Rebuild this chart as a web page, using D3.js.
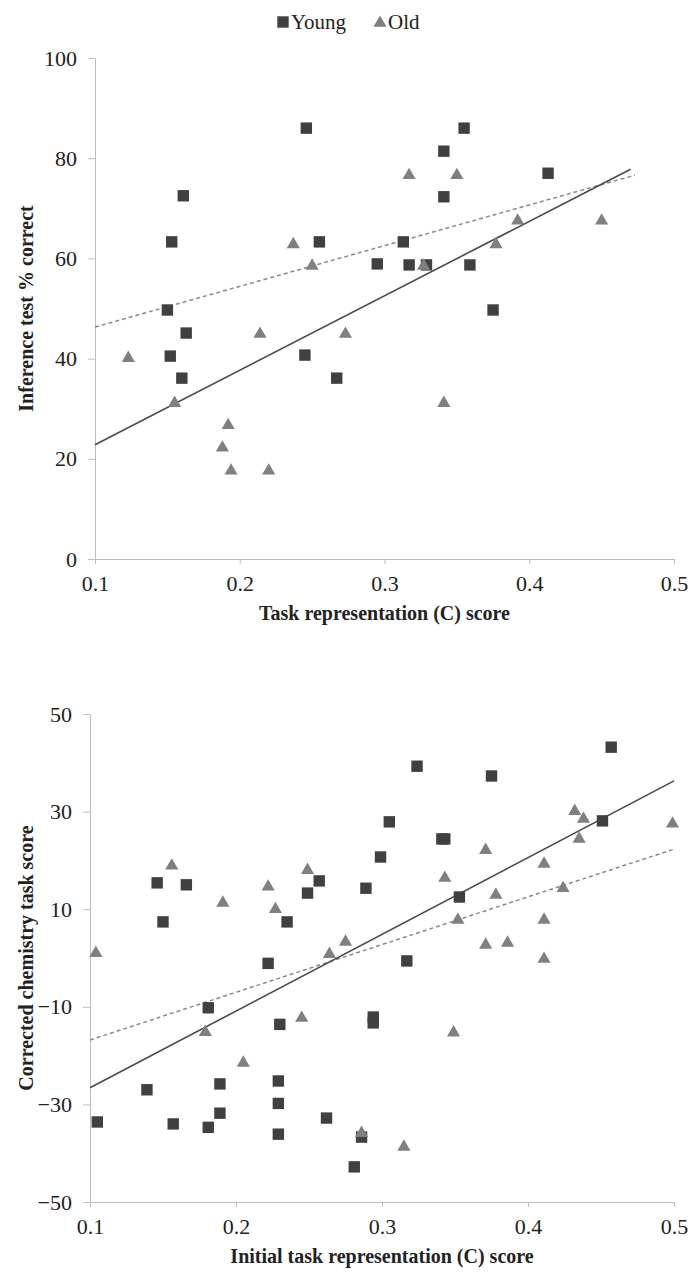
<!DOCTYPE html>
<html>
<head>
<meta charset="utf-8">
<script src="https://cdn.jsdelivr.net/npm/d3@7"></script>
<style>
  body { margin: 0; background: #fff; }
  svg text { font-family: "Liberation Serif", "Times New Roman", "DejaVu Serif", serif !important; fill: #222; }
</style>
</head>
<body>
<script>
// ---- data ----
var seriesNames = ["Young", "Old"];
var xTicks = [0.1, 0.2, 0.3, 0.4, 0.5];

// top panel: inference test % correct
var topYoung = [
  [0.246, 86], [0.355, 86], [0.341, 81.4], [0.413, 77], [0.161, 72.5], [0.341, 72.3],
  [0.153, 63.3], [0.255, 63.3], [0.313, 63.3], [0.295, 58.9], [0.317, 58.7], [0.329, 58.7],
  [0.359, 58.7], [0.150, 49.7], [0.375, 49.7], [0.163, 45.1], [0.152, 40.5], [0.245, 40.7],
  [0.160, 36.1], [0.267, 36.1]
];
var topOld = [
  [0.123, 40.3], [0.155, 31.3], [0.188, 22.4], [0.192, 26.9], [0.194, 17.8], [0.214, 45.1],
  [0.220, 17.8], [0.237, 63], [0.250, 58.7], [0.273, 45.1], [0.317, 76.8], [0.327, 58.7],
  [0.341, 31.3], [0.350, 76.8], [0.377, 63], [0.392, 67.7], [0.450, 67.7]
];
var topTrendSolid = [[0.1, 22.8], [0.47, 77.8]];
var topTrendDashed = [[0.1, 46.3], [0.473, 76.6]];
var topYTicks = [0, 20, 40, 60, 80, 100];

// bottom panel: corrected chemistry task score
var bottomYoung = [
  [0.105, -33.6], [0.139, -27], [0.146, 15.4], [0.150, 7.4], [0.157, -34], [0.166, 15],
  [0.181, -10.2], [0.181, -34.7], [0.189, -25.8], [0.189, -31.8], [0.222, -1.1], [0.229, -25.2],
  [0.229, -29.8], [0.229, -36.1], [0.230, -13.6], [0.235, 7.4], [0.249, 13.3], [0.257, 15.8],
  [0.262, -32.8], [0.281, -42.8], [0.286, -36.7], [0.289, 14.3], [0.294, -12.1], [0.294, -13.3],
  [0.299, 20.7], [0.305, 27.9], [0.317, -0.6], [0.324, 39.3], [0.341, 24.4], [0.343, 24.4],
  [0.353, 12.5], [0.375, 37.3], [0.451, 28.1], [0.457, 43.2]
];
var bottomOld = [
  [0.104, 1.2], [0.156, 19.1], [0.179, -15], [0.191, 11.5], [0.205, -21.3], [0.222, 14.8],
  [0.227, 10.2], [0.245, -12.1], [0.249, 18.2], [0.264, 1], [0.275, 3.5], [0.286, -35.7],
  [0.315, -38.5], [0.343, 16.6], [0.349, -15.1], [0.352, 8], [0.371, 22.3], [0.371, 2.9],
  [0.378, 13.1], [0.386, 3.3], [0.411, 19.5], [0.411, 8], [0.411, 0], [0.424, 14.5],
  [0.432, 30.3], [0.435, 24.6], [0.438, 28.7], [0.499, 27.7]
];
var bottomTrendSolid = [[0.1, -26.6], [0.5, 36.3]];
var bottomTrendDashed = [[0.1, -16.8], [0.5, 22.3]];
var bottomYTicks = [-50, -30, -10, 10, 30, 50];

// ---- drawing ----
var W = 690, H = 1272;
var FONT = "'Liberation Serif', 'Times New Roman', 'DejaVu Serif', serif";
var svg = d3.select("body").append("svg")
    .attr("width", W)
    .attr("height", H);

var colYoung = "#404040", colOld = "#808080";
var squareSym = d3.symbol().type(d3.symbolSquare).size(130);
var triSym = d3.symbol().type(d3.symbolTriangle).size(75);

function drawPanel(p) {
  var x = d3.scaleLinear().domain([0.1, 0.5]).range([p.left, p.right]);
  var y = d3.scaleLinear().domain(p.yDomain).range([p.bottom, p.top]);

  // x axis
  var gx = svg.append("g")
      .attr("transform", "translate(0," + p.bottom + ")")
      .call(d3.axisBottom(x).tickValues(xTicks).tickFormat(d3.format(".1f"))
          .tickSizeInner(5).tickSizeOuter(0).tickPadding(11));
  // y axis
  var gy = svg.append("g")
      .attr("transform", "translate(" + p.left + ",0)")
      .call(d3.axisLeft(y).tickValues(p.yTicks)
          .tickSizeInner(7).tickSizeOuter(0).tickPadding(11));

  [gx, gy].forEach(function(g) {
    g.attr("font-family", null).attr("font-size", null);
    g.select(".domain").attr("stroke", "#bdbdbd");
    g.selectAll(".tick line").attr("stroke", "#bdbdbd");
    g.selectAll(".tick text")
      .style("font-family", FONT)
      .style("font-size", "22px")
      .attr("fill", "#222");
  });

  var line = d3.line()
      .x(function(d) { return x(d[0]); })
      .y(function(d) { return y(d[1]); });

  svg.append("path")
      .datum(p.dashed)
      .attr("d", line)
      .attr("fill", "none")
      .attr("stroke", "#8a8a8a")
      .attr("stroke-width", 1.5)
      .attr("stroke-dasharray", "4,3");

  svg.append("path")
      .datum(p.solid)
      .attr("d", line)
      .attr("fill", "none")
      .attr("stroke", "#4a4a4a")
      .attr("stroke-width", 1.6);

  svg.append("g").selectAll("path")
      .data(p.young)
    .enter().append("path")
      .attr("d", squareSym)
      .attr("transform", function(d) { return "translate(" + x(d[0]) + "," + y(d[1]) + ")"; })
      .attr("fill", colYoung);

  svg.append("g").selectAll("path")
      .data(p.old)
    .enter().append("path")
      .attr("d", triSym)
      .attr("transform", function(d) { return "translate(" + x(d[0]) + "," + (y(d[1]) + 1) + ")"; })
      .attr("fill", colOld);

  // axis titles
  svg.append("text")
      .attr("x", (p.left + p.right) / 2)
      .attr("y", p.bottom + 61)
      .attr("text-anchor", "middle")
      .style("font-size", "20px")
      .style("font-weight", "bold")
      .text(p.xTitle);

  svg.append("text")
      .attr("transform", "translate(33," + ((p.top + p.bottom) / 2) + ") rotate(-90)")
      .attr("text-anchor", "middle")
      .style("font-size", "20px")
      .style("font-weight", "bold")
      .text(p.yTitle);
}

drawPanel({
  left: 95, right: 674, top: 58, bottom: 559,
  yDomain: [0, 100], yTicks: topYTicks,
  young: topYoung, old: topOld,
  solid: topTrendSolid, dashed: topTrendDashed,
  xTitle: "Task representation (C) score",
  yTitle: "Inference test % correct"
});

drawPanel({
  left: 90, right: 674, top: 714, bottom: 1202,
  yDomain: [-50, 50], yTicks: bottomYTicks,
  young: bottomYoung, old: bottomOld,
  solid: bottomTrendSolid, dashed: bottomTrendDashed,
  xTitle: "Initial task representation (C) score",
  yTitle: "Corrected chemistry task score"
});

// legend
var legend = svg.append("g").attr("transform", "translate(283,22)");
legend.append("path").attr("d", squareSym).attr("fill", colYoung);
legend.append("text").attr("x", 8).attr("y", 7).style("font-size", "21px").text(seriesNames[0]);
legend.append("path").attr("d", triSym).attr("transform", "translate(97,1)").attr("fill", colOld);
legend.append("text").attr("x", 105).attr("y", 7).style("font-size", "21px").text(seriesNames[1]);
</script>
</body>
</html>
